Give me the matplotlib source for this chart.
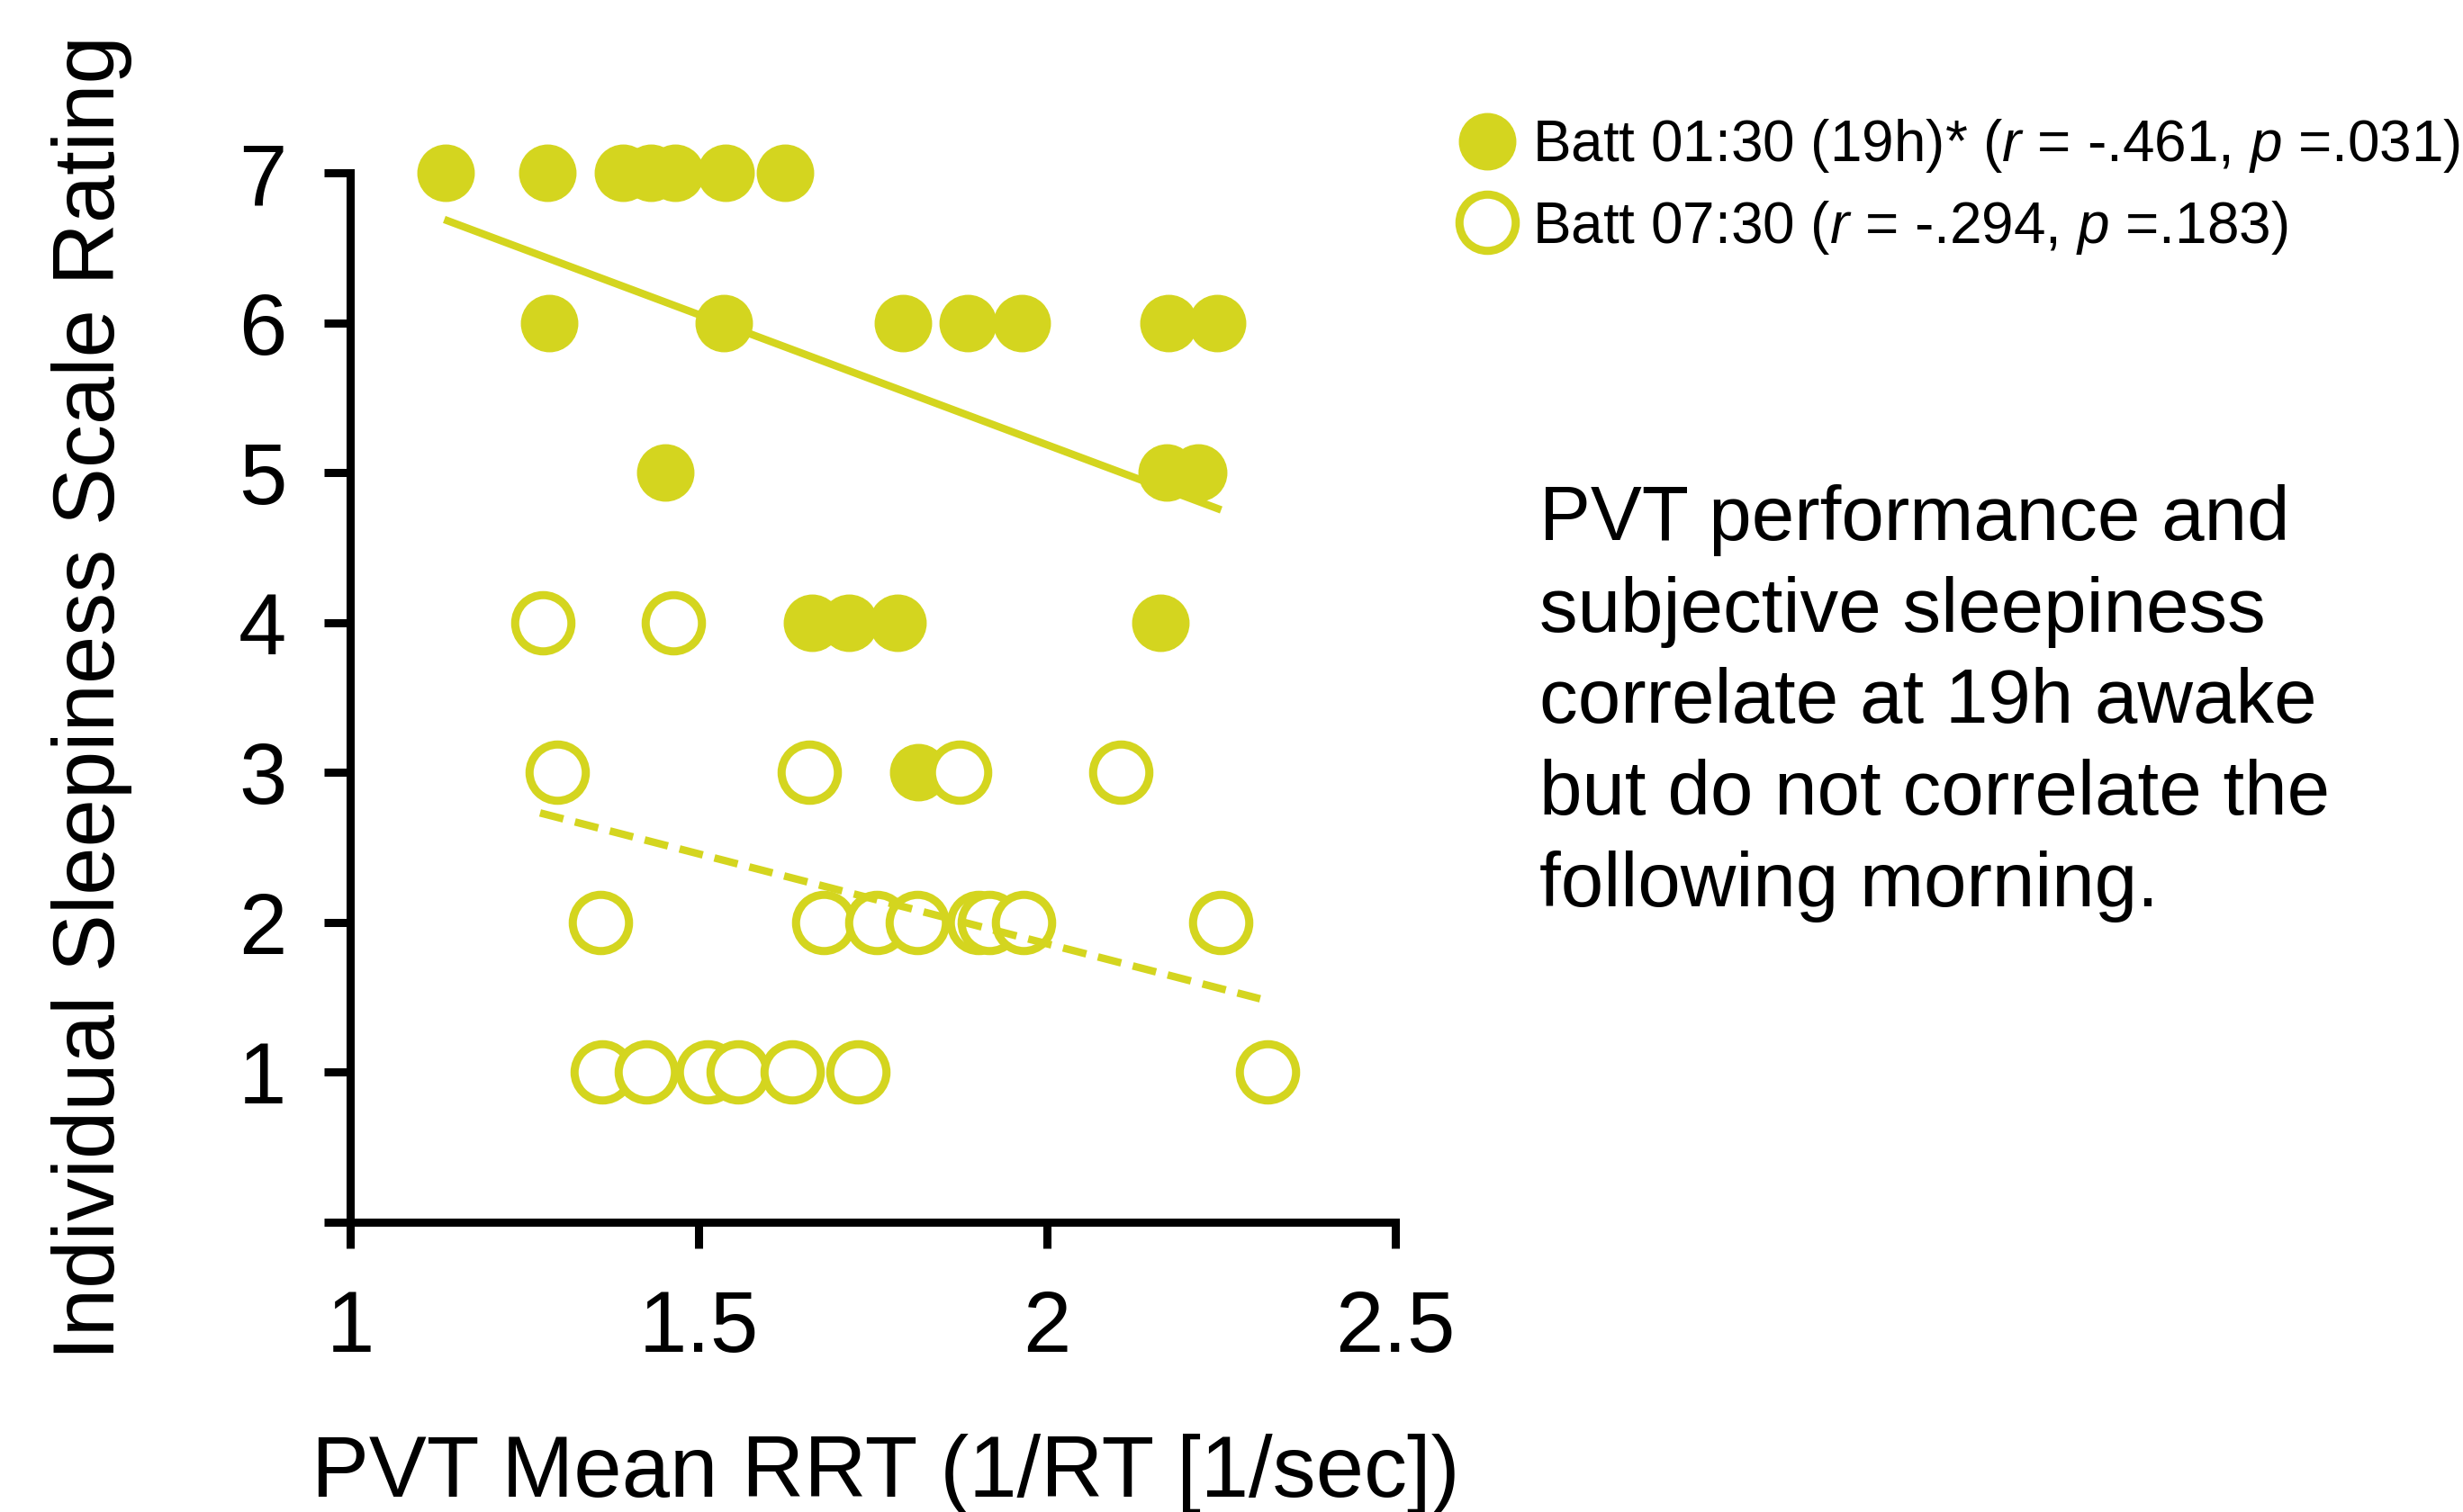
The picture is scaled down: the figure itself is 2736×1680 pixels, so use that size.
import matplotlib
matplotlib.use('Agg')
import matplotlib.pyplot as plt
import numpy as np
from matplotlib.lines import Line2D

plt.rcParams['font.family'] = ['Liberation Sans', 'DejaVu Sans']
plt.rcParams['mathtext.fontset'] = 'custom'
plt.rcParams['mathtext.rm'] = 'Liberation Sans'
plt.rcParams['mathtext.it'] = 'Liberation Sans:italic'

col = '#D4D51F'

# Batt 01:30 (19h) - filled
rrt_0130 = [1.137, 1.283, 1.392, 1.431, 1.467, 1.539, 1.624,
            1.286, 1.536, 1.793, 1.886, 1.964, 2.174, 2.244,
            1.452, 2.172, 2.217,
            1.663, 1.716, 1.786, 2.163,
            1.815]
kss_0130 = [7, 7, 7, 7, 7, 7, 7,
            6, 6, 6, 6, 6, 6, 6,
            5, 5, 5,
            4, 4, 4, 4,
            3]

# Batt 07:30 - open
rrt_0730 = [1.276, 1.464,
            1.297, 1.659, 1.875, 2.106,
            1.359, 1.680, 1.756, 1.814, 1.902, 1.917, 1.966, 2.249,
            1.362, 1.425, 1.513, 1.557, 1.634, 1.729, 2.317]
kss_0730 = [4, 4,
            3, 3, 3, 3,
            2, 2, 2, 2, 2, 2, 2, 2,
            1, 1, 1, 1, 1, 1, 1]

# trend lines as drawn in the figure (end points)
fit_0130_x = [1.14, 2.245]
fit_0130_y = [6.68, 4.76]
fit_0730_x = [1.2725, 2.306]
fit_0730_y = [2.73, 1.49]

lab_0130 = 'Batt 01:30 (19h)* ($r$ = -.461, $p$ =.031)'
lab_0730 = 'Batt 07:30 ($r$ = -.294, $p$ =.183)'
note = ('PVT performance and\nsubjective sleepiness\ncorrelate at 19h awake\n'
        'but do not correlate the\nfollowing morning.')

fig = plt.figure(figsize=(27.36, 16.8), dpi=100)
ax = fig.add_axes([0.1422, 0.1917, 0.5665 - 0.1422, 0.8857 - 0.1917])

ms = 45
ax.plot(rrt_0130, kss_0130, 'o', ms=ms, color=col, mec=col, clip_on=False, zorder=3)
ax.plot(rrt_0730, kss_0730, 'o', ms=ms, mfc='white', mec=col, mew=6.5, clip_on=False, zorder=3)

ax.plot(fit_0130_x, fit_0130_y, '-', color=col, lw=6, zorder=4)
ax.plot(fit_0730_x, fit_0730_y, '--', color=col, lw=6, dashes=(3.2, 1.6), zorder=4)

ax.set_xlim(1, 2.5)
ax.set_ylim(0, 7)
ax.set_xticks([1, 1.5, 2, 2.5])
ax.set_xticklabels(['1', '1.5', '2', '2.5'])
ax.set_yticks(range(0, 8))
ax.set_yticklabels([''] + [str(i) for i in range(1, 8)])
for s in ['top', 'right']:
    ax.spines[s].set_visible(False)
for s in ['left', 'bottom']:
    ax.spines[s].set_linewidth(6.5)
ax.tick_params(axis='both', width=6.5, length=21, labelsize=69, pad=30)
ax.tick_params(axis='x', pad=32)

ax.set_ylabel('Individual Sleepiness Scale Rating', fontsize=69, labelpad=85)
ax.set_xlabel('PVT Mean RRT (1/RT [1/sec])', fontsize=69, labelpad=50)
ax.xaxis.set_label_coords(0.512, -0.202)

handles = [Line2D([], [], ls='', marker='o', ms=ms, color=col),
           Line2D([], [], ls='', marker='o', ms=ms, mfc='white', mec=col, mew=6.5)]
fig.legend(handles, [lab_0130, lab_0730], loc='upper left',
           bbox_to_anchor=(1618 / 2736, 1 - 130 / 1680), frameon=False,
           fontsize=46, handlelength=1.05, handletextpad=0.26, labelspacing=0.42,
           borderpad=0, borderaxespad=0)

fig.text(1710 / 2736, 1 - 538 / 1680, note, fontsize=61.5, va='top', ha='left', linespacing=1.35)

fig.savefig('out.png', dpi=100)
